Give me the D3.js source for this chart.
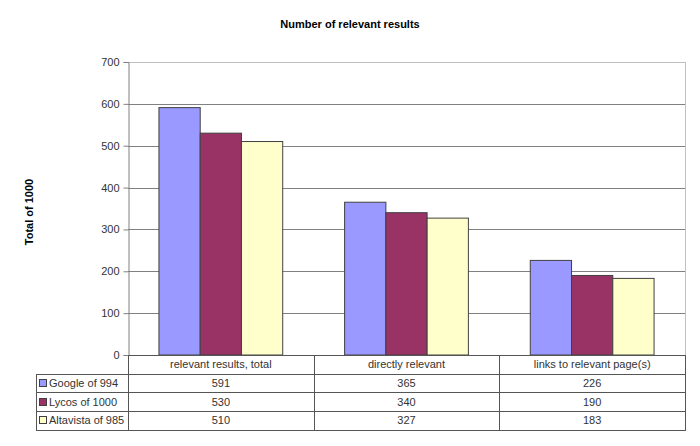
<!DOCTYPE html>
<html><head><meta charset="utf-8">
<script src="https://cdn.jsdelivr.net/npm/d3@7"></script>
<style>body{margin:0;background:#fff}svg{display:block;font-family:"Liberation Sans",Arial,sans-serif}</style>
</head><body><svg id="c" width="700" height="446"></svg>
<script>
const categories = ["relevant results, total", "directly relevant", "links to relevant page(s)"];
const seriesNames = ["Google of 994", "Lycos of 1000", "Altavista of 985"];
const google = [591, 365, 226];
const lycos = [530, 340, 190];
const altavista = [510, 327, 183];
const yTicks = [0, 100, 200, 300, 400, 500, 600, 700];
const colors = ["#9999FF", "#993366", "#FFFFCC"];
const series = [google, lycos, altavista];

const svg = d3.select("#c");
const L = 128, R = 685, T = 62, B = 355, tableLeft = 36, rowH = 18.7;

const x = d3.scaleBand().domain(categories).range([L, R]).padding(0);
const y = d3.scaleLinear().domain([0, 700]).range([B, T]);
const bw = x.bandwidth() / 4.5;
const xs = d3.scaleBand().domain(seriesNames).range([0.75 * bw, 3.75 * bw]).padding(0);

// gridlines
svg.append("g").selectAll("line").data(yTicks.filter(d => d > 0)).join("line")
  .attr("x1", L).attr("x2", R).attr("y1", d => Math.round(y(d)) + 0.5).attr("y2", d => Math.round(y(d)) + 0.5)
  .attr("stroke", d => d === 700 ? "#c0c0c0" : "#808080").attr("stroke-width", 1);
// right border
svg.append("line").attr("x1", R + 0.5).attr("x2", R + 0.5).attr("y1", T).attr("y2", B).attr("stroke", "#c0c0c0");

// bars
seriesNames.forEach((s, i) => {
  svg.append("g").selectAll("rect").data(categories).join("rect")
    .attr("x", c => x(c) + xs(s))
    .attr("y", (c, j) => y(series[i][j]))
    .attr("width", xs.bandwidth())
    .attr("height", (c, j) => B - y(series[i][j]))
    .attr("fill", colors[i]).attr("stroke", "#404040").attr("stroke-width", 1);
});

// y axis
const ya = svg.append("g").attr("transform", `translate(${L + 0.5},0)`)
  .call(d3.axisLeft(y).tickValues(yTicks).tickSize(5).tickPadding(4));
ya.select(".domain").attr("stroke", "#808080");
ya.selectAll(".tick line").attr("stroke", "#808080");
ya.selectAll("text").attr("font-size", 11).attr("fill", "#333").attr("font-family", "Liberation Sans, Arial, sans-serif");

// table
const tg = svg.append("g").attr("stroke", "#555").attr("stroke-width", 1).attr("fill", "none");
const rows = [B, B + rowH, B + 2 * rowH, B + 3 * rowH, B + 4 * rowH];
// horizontal lines
tg.append("line").attr("x1", L).attr("x2", R).attr("y1", B + 0.5).attr("y2", B + 0.5);
[1, 2, 3, 4].forEach(k => tg.append("line").attr("x1", tableLeft).attr("x2", R)
  .attr("y1", Math.round(rows[k]) + 0.5).attr("y2", Math.round(rows[k]) + 0.5));
// vertical lines
tg.append("line").attr("x1", tableLeft + 0.5).attr("x2", tableLeft + 0.5).attr("y1", Math.round(rows[1])).attr("y2", Math.round(rows[4]) + 1);
categories.forEach(c => tg.append("line").attr("x1", Math.round(x(c)) + 0.5).attr("x2", Math.round(x(c)) + 0.5)
  .attr("y1", B).attr("y2", Math.round(rows[4]) + 1));
tg.append("line").attr("x1", R + 0.5).attr("x2", R + 0.5).attr("y1", B).attr("y2", Math.round(rows[4]) + 1);

// header text
svg.append("g").selectAll("text").data(categories).join("text")
  .attr("x", c => x(c) + x.bandwidth() / 2).attr("y", B + rowH / 2 + 4)
  .attr("text-anchor", "middle").attr("font-size", 11).attr("fill", "#333").text(c => c);

// rows
seriesNames.forEach((s, i) => {
  const cy = rows[i + 1] + rowH / 2;
  svg.append("rect").attr("x", 39.5).attr("y", Math.round(cy - 4) + 0.5).attr("width", 7).attr("height", 7)
    .attr("fill", colors[i]).attr("stroke", "#404040");
  svg.append("text").attr("x", 49).attr("y", cy + 4).attr("font-size", 11).attr("fill", "#333").text(s);
  svg.append("g").selectAll("text").data(categories).join("text")
    .attr("x", c => x(c) + x.bandwidth() / 2).attr("y", cy + 4)
    .attr("text-anchor", "middle").attr("font-size", 11).attr("fill", "#333")
    .text((c, j) => series[i][j]);
});

// titles
svg.append("text").attr("x", 350).attr("y", 28).attr("text-anchor", "middle")
  .attr("font-size", 11).attr("font-weight", "bold").text("Number of relevant results");
svg.append("text").attr("transform", `translate(33,212) rotate(-90)`).attr("text-anchor", "middle")
  .attr("font-size", 11).attr("font-weight", "bold").text("Total of 1000");
</script></body></html>
